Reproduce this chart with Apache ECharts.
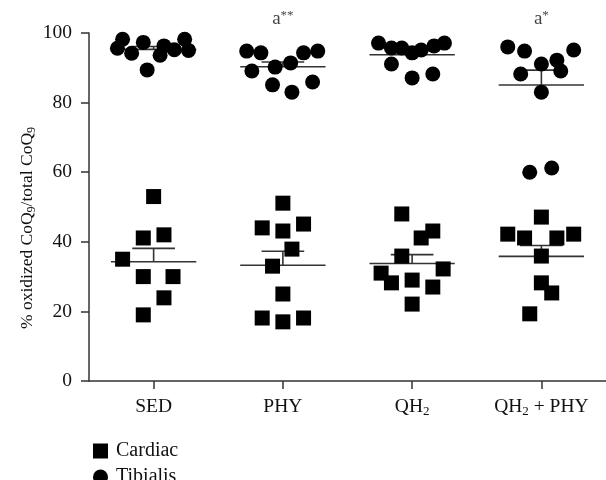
<!DOCTYPE html>
<html><head><meta charset="utf-8">
<script src="https://cdn.jsdelivr.net/npm/echarts@6/dist/echarts.min.js"></script>
<style>html,body{margin:0;padding:0;background:#fff}#c{width:606px;height:480px}</style>
</head><body><div id="c"></div>
<script>
// ---- data ----
const categories = ['SED', 'PHY', 'QH2', 'QH2 + PHY'];
const yTicks = [0, 20, 40, 60, 80, 100];
const yTitle = '% oxidized CoQ{sub|9}/total CoQ{sub|9}';

// Cardiac values per group and horizontal jitter (fraction of category width)
const cardiacSED = [53.0, 41.1, 42.0, 35.0, 30.0, 30.0, 23.9, 19.0];
const cardiacSEDJitter = [0, -0.08, 0.08, -0.24, -0.08, 0.15, 0.08, -0.08];
const cardiacPHY = [51.1, 44.0, 43.1, 45.1, 37.9, 33.0, 25.0, 18.1, 17.0, 18.1];
const cardiacPHYJitter = [0, -0.16, 0, 0.16, 0.07, -0.08, 0, -0.16, 0, 0.16];
const cardiacQH2 = [48.0, 43.1, 41.1, 35.9, 31.0, 28.2, 29.0, 32.2, 27.0, 22.1];
const cardiacQH2Jitter = [-0.08, 0.16, 0.07, -0.08, -0.24, -0.16, 0, 0.24, 0.16, 0];
const cardiacQH2PHY = [47.1, 42.2, 41.1, 41.1, 42.2, 35.9, 28.2, 25.3, 19.3];
const cardiacQH2PHYJitter = [0, -0.26, -0.13, 0.12, 0.25, 0, 0, 0.08, -0.09];

// Tibialis values per group and jitter
const tibialisSED = [98.2, 95.6, 94.2, 97.3, 89.4, 93.6, 96.3, 95.2, 98.2, 95.0];
const tibialisSEDJitter = [-0.24, -0.28, -0.17, -0.08, -0.05, 0.05, 0.08, 0.16, 0.24, 0.27];
const tibialisPHY = [94.8, 94.3, 89.1, 90.2, 85.1, 91.4, 83.0, 94.3, 94.8, 85.9];
const tibialisPHYJitter = [-0.28, -0.17, -0.24, -0.06, -0.08, 0.06, 0.07, 0.16, 0.27, 0.23];
const tibialisQH2 = [97.1, 95.7, 95.7, 94.3, 95.1, 96.3, 97.1, 91.1, 87.1, 88.2];
const tibialisQH2Jitter = [-0.26, -0.16, -0.08, 0, 0.07, 0.17, 0.25, -0.16, 0, 0.16];
const tibialisQH2PHY = [96.0, 94.8, 91.1, 92.2, 95.1, 88.2, 89.1, 83.0, 60.0, 61.2];
const tibialisQH2PHYJitter = [-0.26, -0.13, 0, 0.12, 0.25, -0.16, 0.15, 0, -0.09, 0.08];

// significance annotations
const annotCategories = ['PHY', 'QH2 + PHY'];
const annotLetters = ['a', 'a'];
const annotStars = ['**', '*'];
const annotLevel = 104;

// ---- build ----
const cardiacGroups = [cardiacSED, cardiacPHY, cardiacQH2, cardiacQH2PHY];
const cardiacJit = [cardiacSEDJitter, cardiacPHYJitter, cardiacQH2Jitter, cardiacQH2PHYJitter];
const tibialisGroups = [tibialisSED, tibialisPHY, tibialisQH2, tibialisQH2PHY];
const tibialisJit = [tibialisSEDJitter, tibialisPHYJitter, tibialisQH2Jitter, tibialisQH2PHYJitter];

function points(groups, jit) {
  const out = [];
  groups.forEach((vals, g) => vals.forEach((v, i) => out.push([g + 0.5 + jit[g][i], v])));
  return out;
}
function stats(groups) {
  return groups.map((vals, g) => {
    const n = vals.length;
    const m = vals.reduce((a, b) => a + b, 0) / n;
    const sd = Math.sqrt(vals.reduce((a, b) => a + (b - m) * (b - m), 0) / (n - 1));
    return [g + 0.5, m, sd / Math.sqrt(n)];
  });
}
const errData = stats(cardiacGroups).concat(stats(tibialisGroups));

const serif = '"Liberation Serif", "DejaVu Serif", serif';
const txt = '#111';
const lineCol = '#333';

function subFmt(s) { return s.replace(/2/g, '{sub|2}'); }

const legendBase = {
  orient: 'vertical', left: 88, itemWidth: 15, itemHeight: 15,
  textStyle: {fontFamily: serif, fontSize: 20, color: txt, padding: [0, 0, 0, 3]}
};

const chart = echarts.init(document.getElementById('c'), null, {renderer: 'canvas'});
chart.setOption({
  animation: false,
  backgroundColor: '#fff',
  grid: {left: 89, top: 33, width: 519, height: 348, containLabel: false},
  legend: [
    Object.assign({}, legendBase, {top: 436, data: [{name: 'Cardiac', icon: 'rect'}]}),
    Object.assign({}, legendBase, {top: 462, data: [{name: 'Tibialis', icon: 'circle'}]})
  ],
  graphic: [{
    type: 'text', x: 27, y: 228, rotation: Math.PI / 2, silent: true,
    style: {
      text: yTitle, align: 'center', verticalAlign: 'middle',
      fontFamily: serif, fontSize: 17.5, fill: txt,
      rich: {sub: {fontFamily: serif, fontSize: 12, fill: txt, padding: [10, 0, 0, 0]}}
    }
  }],
  xAxis: [
    {
      type: 'category', data: categories, boundaryGap: true,
      axisLine: {lineStyle: {color: lineCol, width: 1.5}},
      axisTick: {show: true, length: 8, alignWithLabel: true, lineStyle: {color: lineCol, width: 1.5}},
      axisLabel: {
        interval: 0, margin: 14, color: txt, fontFamily: serif, fontSize: 19.5, lineHeight: 24,
        formatter: v => subFmt(v),
        rich: {sub: {fontFamily: serif, fontSize: 13, color: txt, padding: [10, 0, 0, 0]}}
      },
      splitLine: {show: false}
    },
    {type: 'value', min: 0, max: 4, show: false, position: 'bottom'}
  ],
  yAxis: {
    type: 'value', min: 0, max: 100, interval: 20,
    axisLine: {show: true, lineStyle: {color: lineCol, width: 1.5}},
    axisTick: {show: true, length: 8, lineStyle: {color: lineCol, width: 1.5}},
    axisLabel: {margin: 17, color: txt, fontFamily: serif, fontSize: 19.5,
      formatter: v => yTicks.includes(v) ? String(v) : ''},
    splitLine: {show: false}
  },
  series: [
    {
      type: 'custom', name: 'err', xAxisIndex: 1, z: 1, silent: true,
      data: errData,
      renderItem: function (params, api) {
        const x = api.value(0), m = api.value(1), s = api.value(2);
        const l = api.coord([x - 0.33, m]), r = api.coord([x + 0.33, m]);
        const c0 = api.coord([x, m]), c1 = api.coord([x, m + s]);
        const cl = api.coord([x - 0.165, m + s]), cr = api.coord([x + 0.165, m + s]);
        const st = {stroke: lineCol, lineWidth: 1.6};
        return {type: 'group', children: [
          {type: 'line', shape: {x1: l[0], y1: l[1], x2: r[0], y2: r[1]}, style: st},
          {type: 'line', shape: {x1: c0[0], y1: c0[1], x2: c1[0], y2: c1[1]}, style: st},
          {type: 'line', shape: {x1: cl[0], y1: cl[1], x2: cr[0], y2: cr[1]}, style: st}
        ]};
      }
    },
    {
      type: 'scatter', name: 'Cardiac', xAxisIndex: 1, z: 2, symbol: 'rect', symbolSize: 15,
      itemStyle: {color: '#000', opacity: 1}, data: points(cardiacGroups, cardiacJit)
    },
    {
      type: 'scatter', name: 'Tibialis', xAxisIndex: 1, z: 2, symbol: 'circle', symbolSize: 15,
      itemStyle: {color: '#000', opacity: 1}, data: points(tibialisGroups, tibialisJit)
    },
    {
      type: 'scatter', name: 'annot', xAxisIndex: 1, z: 3, symbolSize: 0, clip: false, silent: true,
      data: annotCategories.map((c, i) => ({value: [categories.indexOf(c) + 0.5, annotLevel], t: annotLetters[i], s: annotStars[i]})),
      label: {
        show: true, position: 'inside',
        formatter: p => p.data.t + '{st|' + p.data.s + '}',
        fontFamily: serif, fontSize: 19, color: txt,
        rich: {st: {fontFamily: serif, fontSize: 13, color: txt, padding: [0, 0, 8, 0]}}
      }
    }
  ]
});
</script></body></html>
